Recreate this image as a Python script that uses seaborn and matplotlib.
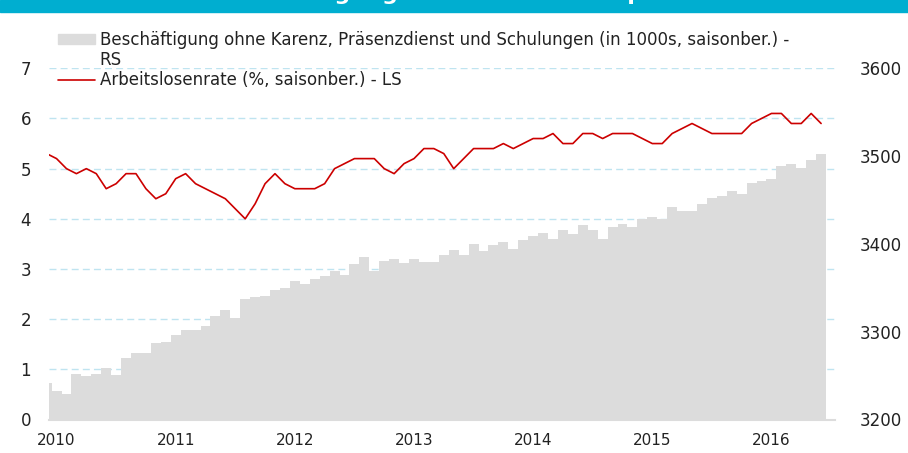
import matplotlib
matplotlib.use("Agg")
import matplotlib.pyplot as plt
import matplotlib.patches as mpatches
import numpy as np
import pandas as pd
import seaborn as sns

# monthly data, Dec 2009 .. Jun 2016
months = pd.period_range("2009-12", "2016-06", freq="M")

employment = [3241.9, 3232.5, 3229.0, 3251.8, 3249.5, 3251.8, 3258.7, 3250.7, 3270.0, 3275.4,
              3275.4, 3286.8, 3287.9, 3295.9, 3302.3, 3302.3, 3306.1, 3317.5, 3324.7, 3315.6,
              3337.2, 3339.2, 3341.0, 3347.1, 3349.8, 3357.7, 3354.0, 3360.4, 3363.1, 3369.1,
              3364.6, 3377.1, 3385.1, 3369.5, 3380.9, 3383.1, 3378.6, 3382.4, 3379.8, 3379.8,
              3387.4, 3393.1, 3387.4, 3400.3, 3391.9, 3399.1, 3401.8, 3394.2, 3404.4, 3408.6,
              3412.0, 3405.6, 3415.8, 3410.9, 3421.1, 3415.8, 3405.6, 3419.6, 3422.3, 3419.6,
              3428.4, 3430.3, 3428.0, 3442.0, 3437.9, 3437.9, 3445.4, 3451.9, 3454.6, 3459.9,
              3457.2, 3469.7, 3471.6, 3473.9, 3488.7, 3491.0, 3486.4, 3495.6, 3502.4]

unemployment = [5.3, 5.2, 5.0, 4.9, 5.0, 4.9, 4.6, 4.7, 4.9, 4.9,
                4.6, 4.4, 4.5, 4.8, 4.9, 4.7, 4.6, 4.5, 4.4, 4.2,
                4.0, 4.3, 4.7, 4.9, 4.7, 4.6, 4.6, 4.6, 4.7, 5.0,
                5.1, 5.2, 5.2, 5.2, 5.0, 4.9, 5.1, 5.2, 5.4, 5.4,
                5.3, 5.0, 5.2, 5.4, 5.4, 5.4, 5.5, 5.4, 5.5, 5.6,
                5.6, 5.7, 5.5, 5.5, 5.7, 5.7, 5.6, 5.7, 5.7, 5.7,
                5.6, 5.5, 5.5, 5.7, 5.8, 5.9, 5.8, 5.7, 5.7, 5.7,
                5.7, 5.9, 6.0, 6.1, 6.1, 5.9, 5.9, 6.1, 5.9]

years = [2010, 2011, 2012, 2013, 2014, 2015, 2016]

label_bar = "Beschäftigung ohne Karenz, Präsenzdienst und Schulungen (in 1000s, saisonber.) -"
label_bar_cont = "RS"
label_line = "Arbeitslosenrate (%, saisonber.) - LS"
title = "Beschäftigung und Arbeitslosenquote"

df = pd.DataFrame({"pos": np.arange(len(months)),
                   "employment": employment,
                   "unemployment": unemployment})

sns.set_style("white")
plt.rcParams["font.family"] = ["DejaVu Sans"]

fig = plt.figure(figsize=(9.08, 4.53), dpi=100)

# banner at the top (title mostly cut off, as in the source)
fig.patches.append(mpatches.Rectangle((0, 1 - 12 / 453), 1, 12 / 453, transform=fig.transFigure,
                                      color="#00aed0", zorder=0))
fig.text(0.5, 1 + 0.5 / 453, title, ha="center", va="baseline", color="white",
         fontsize=16, fontweight="bold")

ax = fig.add_axes([49 / 908, 1 - 419.5 / 453, (835 - 49) / 908, (419.5 - 68.3) / 453])
ax2 = ax.twinx()

sns.barplot(data=df, x="pos", y="employment", ax=ax2, color="#dcdcdc", width=1,
            saturation=1, linewidth=0)
sns.lineplot(data=df, x="pos", y="unemployment", ax=ax, color="#cc0000", linewidth=1.2)

ax.set_ylim(0, 7)
ax2.set_ylim(3200, 3600)
ax.set_xlim(0.24, 79.4)
ax.set_yticks(range(0, 8))
ax2.set_yticks([3200, 3300, 3400, 3500, 3600])
# January of each year
jan_pos = [list(months.year).index(y) for y in years]
ax.set_xticks(jan_pos)
ax.set_xticklabels([str(y) for y in years])

ax.grid(axis="y", color="#bfe4f0", linestyle=(0, (5, 3)), linewidth=1)
ax.grid(axis="x", visible=False)
ax.set_xlabel("")
ax.set_ylabel("")
ax2.set_xlabel("")
ax2.set_ylabel("")

for a in (ax, ax2):
    for s in a.spines.values():
        s.set_visible(False)
ax2.spines["bottom"].set_visible(True)
ax2.spines["bottom"].set_color("#dcdcdc")
ax2.spines["bottom"].set_linewidth(1.5)

ax.tick_params(axis="y", length=0, pad=13, labelsize=12, colors="#222222")
ax.tick_params(axis="x", length=0, pad=10, labelsize=11, colors="#222222")
ax2.tick_params(axis="y", length=0, pad=18, labelsize=12, colors="#222222")

# legend: the wrapped "RS" gets an empty handle so the grey box sits on the first line
bar_handle = mpatches.Patch(color="#dcdcdc")
blank_handle = mpatches.Patch(color="none")
line_handle = ax.lines[0]
fig.legend([bar_handle, blank_handle, line_handle], [label_bar, label_bar_cont, label_line],
           loc="upper left", bbox_to_anchor=(58 / 908, 1 - 31 / 453), frameon=False,
           fontsize=12, handlelength=2.2, handleheight=0.5, handletextpad=0.3,
           labelspacing=0.12, borderpad=0, borderaxespad=0, labelcolor="#222222")

fig.savefig("out.png", dpi=100)
